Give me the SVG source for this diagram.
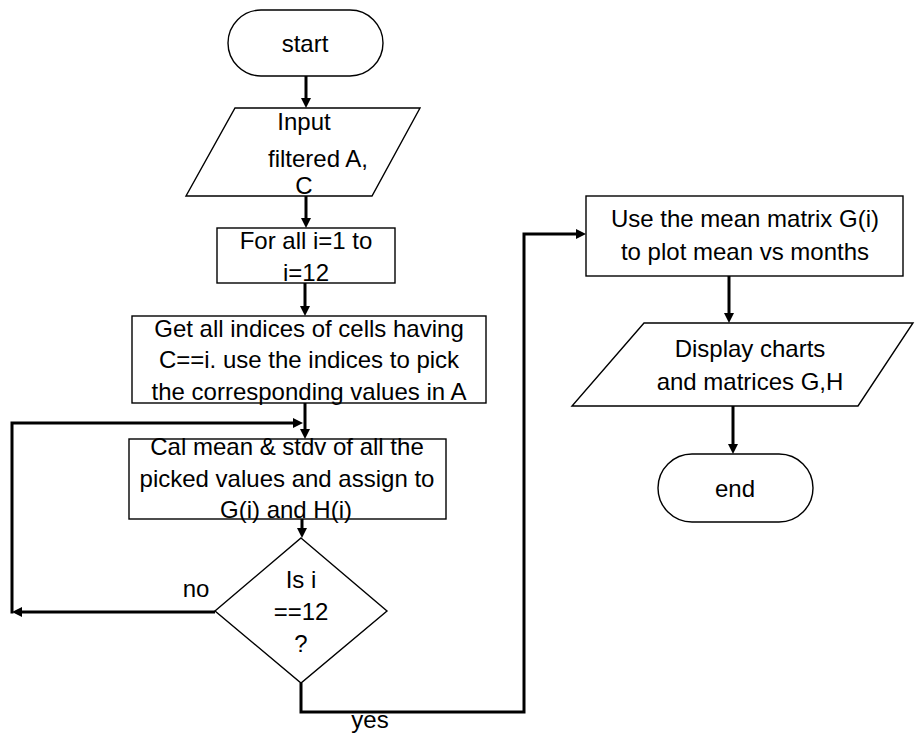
<svg xmlns="http://www.w3.org/2000/svg" width="915" height="736" viewBox="0 0 915 736">
<style>
.shape{fill:#fff;stroke:#000;stroke-width:1.4}
.lbl{font-family:"Liberation Sans",Arial,sans-serif;font-size:24px;fill:#000;text-anchor:middle}
.conn{fill:none;stroke:#000;stroke-width:3;stroke-linejoin:miter}
</style>
<defs>
<marker id="ah" viewBox="0 0 10 10" refX="3" refY="5" markerWidth="10" markerHeight="10" markerUnits="userSpaceOnUse" orient="auto">
<path d="M0,0 L10,5 L0,10 z" fill="#000"/>
</marker>
</defs>
<rect width="915" height="736" fill="#fff"/>
<g id="connectors">
<path class="conn" d="M306,76 V101" marker-end="url(#ah)"/>
<path class="conn" d="M306,196 V221" marker-end="url(#ah)"/>
<path class="conn" d="M305,283 V309" marker-end="url(#ah)"/>
<path class="conn" d="M305,403 V432" marker-end="url(#ah)"/>
<path class="conn" d="M302,519 V531" marker-end="url(#ah)"/>
<path class="conn" d="M215,612 H19" marker-end="url(#ah)"/>
<path class="conn" d="M12,613.5 V423 H296" marker-end="url(#ah)"/>
<path class="conn" d="M301,683 V712 H524 V234 H579" marker-end="url(#ah)"/>
<path class="conn" d="M729,276 V316" marker-end="url(#ah)"/>
<path class="conn" d="M733,406 V447" marker-end="url(#ah)"/>
<text class="lbl" x="196" y="597">no</text>
<text class="lbl" x="370" y="728">yes</text>
</g>
<g id="start">
<rect class="shape" x="228" y="10" width="155" height="66" rx="33" ry="33"/>
<text class="lbl" x="305" y="52">start</text>
</g>
<g id="input">
<polygon class="shape" points="235,108 420,108 372,196 186,196"/>
<text class="lbl" x="304" y="130">Input</text>
<text class="lbl" x="318" y="167">filtered A,</text>
<text class="lbl" x="304" y="194">C</text>
</g>
<g id="loop">
<rect class="shape" x="217" y="228" width="178" height="55"/>
<text class="lbl" x="306" y="249">For all i=1 to</text>
<text class="lbl" x="306" y="281">i=12</text>
</g>
<g id="get">
<rect class="shape" x="132" y="316" width="354" height="87"/>
<text class="lbl" x="309" y="337">Get all indices of cells having</text>
<text class="lbl" x="309" y="368">C==i. use the indices to pick</text>
<text class="lbl" x="309" y="400">the corresponding values in A</text>
</g>
<g id="cal">
<rect class="shape" x="129" y="439" width="317" height="80"/>
<text class="lbl" x="287" y="455">Cal mean &amp; stdv of all the</text>
<text class="lbl" x="287" y="487">picked values and assign to</text>
<text class="lbl" x="286" y="518">G(i) and H(i)</text>
</g>
<g id="decision">
<polygon class="shape" points="301,538 387,611 301,683 215,611"/>
<text class="lbl" x="301" y="588">Is i</text>
<text class="lbl" x="301" y="620">==12</text>
<text class="lbl" x="301" y="652">?</text>
</g>
<g id="plot">
<rect class="shape" x="586" y="196" width="317" height="80"/>
<text class="lbl" x="745" y="227">Use the mean matrix G(i)</text>
<text class="lbl" x="745" y="260">to plot mean vs months</text>
</g>
<g id="display">
<polygon class="shape" points="644,323 913,323 858,406 572,406"/>
<text class="lbl" x="750" y="357">Display charts</text>
<text class="lbl" x="750" y="390">and matrices G,H</text>
</g>
<g id="end">
<rect class="shape" x="658" y="454" width="155" height="68" rx="34" ry="34"/>
<text class="lbl" x="735" y="497">end</text>
</g>
</svg>
